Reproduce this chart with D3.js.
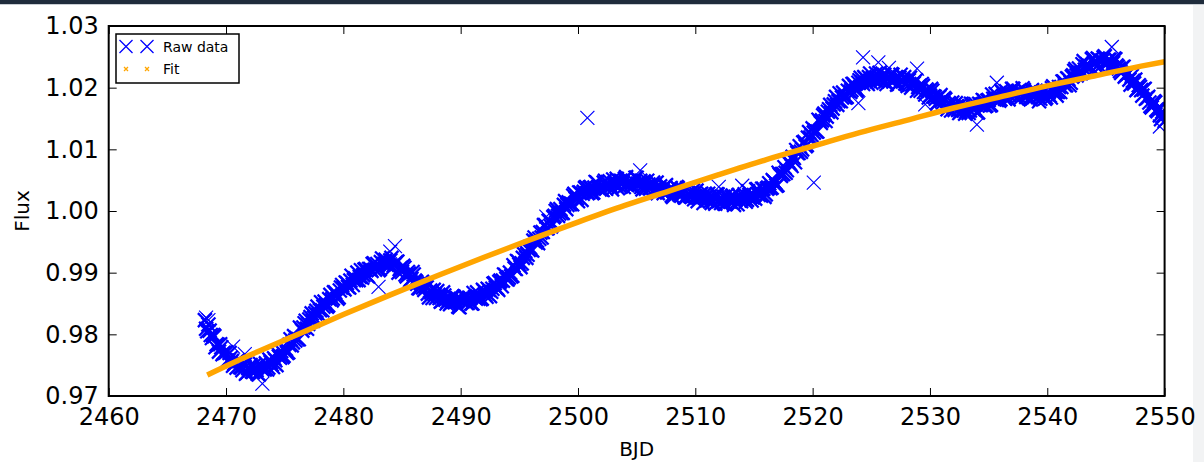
<!DOCTYPE html>
<html>
<head>
<meta charset="utf-8">
<script src="https://cdn.jsdelivr.net/npm/d3@7"></script>
<style>
  html, body { margin: 0; padding: 0; background: #ffffff; }
  svg { display: block; font-family: "DejaVu Sans", sans-serif; }
</style>
</head>
<body>
<svg id="chart" width="1204" height="462"></svg>
<script>
// Light curve: two interleaved sets of exposures (BJD - 2457000, normalised flux)
const rawBjdA = [
  2468.2, 2468.4, 2468.6, 2468.8,
  2469.0, 2469.2, 2469.4, 2469.6, 2469.8,
  2470.0, 2470.2, 2470.4, 2470.6, 2470.8,
  2471.0, 2471.2, 2471.4, 2471.6, 2471.8,
  2472.0, 2472.2, 2472.4, 2472.6, 2472.8,
  2473.0, 2473.2, 2473.4, 2473.6, 2473.8,
  2474.0, 2474.2, 2474.4, 2474.6, 2474.8,
  2475.0, 2475.2, 2475.4, 2475.6, 2475.8,
  2476.0, 2476.2, 2476.4, 2476.6, 2476.8,
  2477.0, 2477.2, 2477.4, 2477.6, 2477.8,
  2478.0, 2478.2, 2478.4, 2478.6, 2478.8,
  2479.0, 2479.2, 2479.4, 2479.6, 2479.8,
  2480.0, 2480.2, 2480.4, 2480.6, 2480.8,
  2481.0, 2481.2, 2481.4, 2481.6, 2481.8,
  2482.0, 2482.2, 2482.4, 2482.6, 2482.8,
  2483.0, 2483.2, 2483.4, 2483.6, 2483.8,
  2484.0, 2484.2, 2484.4, 2484.6, 2484.8,
  2485.0, 2485.2, 2485.4, 2485.6, 2485.8,
  2486.0, 2486.2, 2486.4, 2486.6, 2486.8,
  2487.0, 2487.2, 2487.4, 2487.6, 2487.8,
  2488.0, 2488.2, 2488.4, 2488.6, 2488.8,
  2489.0, 2489.2, 2489.4, 2489.6, 2489.8,
  2490.0, 2490.2, 2490.4, 2490.6, 2490.8,
  2491.0, 2491.2, 2491.4, 2491.6, 2491.8,
  2492.0, 2492.2, 2492.4, 2492.6, 2492.8,
  2493.0, 2493.2, 2493.4, 2493.6, 2493.8,
  2494.0, 2494.2, 2494.4, 2494.6, 2494.8,
  2495.0, 2495.2, 2495.4, 2495.6, 2495.8,
  2496.0, 2496.2, 2496.4, 2496.6, 2496.8,
  2497.0, 2497.2, 2497.4, 2497.6, 2497.8,
  2498.0, 2498.2, 2498.4, 2498.6, 2498.8,
  2499.0, 2499.2, 2499.4, 2499.6, 2499.8,
  2500.0, 2500.2, 2500.4, 2500.6, 2500.8,
  2501.0, 2501.2, 2501.4, 2501.6, 2501.8,
  2502.0, 2502.2, 2502.4, 2502.6, 2502.8,
  2503.0, 2503.2, 2503.4, 2503.6, 2503.8,
  2504.0, 2504.2, 2504.4, 2504.6, 2504.8,
  2505.0, 2505.2, 2505.4, 2505.6, 2505.8,
  2506.0, 2506.2, 2506.4, 2506.6, 2506.8,
  2507.0, 2507.2, 2507.4, 2507.6, 2507.8,
  2508.0, 2508.2, 2508.4, 2508.6, 2508.8,
  2509.0, 2509.2, 2509.4, 2509.6, 2509.8,
  2510.0, 2510.2, 2510.4, 2510.6, 2510.8,
  2511.0, 2511.2, 2511.4, 2511.6, 2511.8,
  2512.0, 2512.2, 2512.4, 2512.6, 2512.8,
  2513.0, 2513.2, 2513.4, 2513.6, 2513.8,
  2514.0, 2514.2, 2514.4, 2514.6, 2514.8,
  2515.0, 2515.2, 2515.4, 2515.6, 2515.8,
  2516.0, 2516.2, 2516.4, 2516.6, 2516.8,
  2517.0, 2517.2, 2517.4, 2517.6, 2517.8,
  2518.0, 2518.2, 2518.4, 2518.6, 2518.8,
  2519.0, 2519.2, 2519.4, 2519.6, 2519.8,
  2520.0, 2520.2, 2520.4, 2520.6, 2520.8,
  2521.0, 2521.2, 2521.4, 2521.6, 2521.8,
  2522.0, 2522.2, 2522.4, 2522.6, 2522.8,
  2523.0, 2523.2, 2523.4, 2523.6, 2523.8,
  2524.0, 2524.2, 2524.4, 2524.6, 2524.8,
  2525.0, 2525.2, 2525.4, 2525.6, 2525.8,
  2526.0, 2526.2, 2526.4, 2526.6, 2526.8,
  2527.0, 2527.2, 2527.4, 2527.6, 2527.8,
  2528.0, 2528.2, 2528.4, 2528.6, 2528.8,
  2529.0, 2529.2, 2529.4, 2529.6, 2529.8,
  2530.0, 2530.2, 2530.4, 2530.6, 2530.8,
  2531.0, 2531.2, 2531.4, 2531.6, 2531.8,
  2532.0, 2532.2, 2532.4, 2532.6, 2532.8,
  2533.0, 2533.2, 2533.4, 2533.6, 2533.8,
  2534.0, 2534.2, 2534.4, 2534.6, 2534.8,
  2535.0, 2535.2, 2535.4, 2535.6, 2535.8,
  2536.0, 2536.2, 2536.4, 2536.6, 2536.8,
  2537.0, 2537.2, 2537.4, 2537.6, 2537.8,
  2538.0, 2538.2, 2538.4, 2538.6, 2538.8,
  2539.0, 2539.2, 2539.4, 2539.6, 2539.8,
  2540.0, 2540.2, 2540.4, 2540.6, 2540.8,
  2541.0, 2541.2, 2541.4, 2541.6, 2541.8,
  2542.0, 2542.2, 2542.4, 2542.6, 2542.8,
  2543.0, 2543.2, 2543.4, 2543.6, 2543.8,
  2544.0, 2544.2, 2544.4, 2544.6, 2544.8,
  2545.0, 2545.2, 2545.4, 2545.6, 2545.8,
  2546.0, 2546.2, 2546.4, 2546.6, 2546.8,
  2547.0, 2547.2, 2547.4, 2547.6, 2547.8,
  2548.0, 2548.2, 2548.4, 2548.6, 2548.8,
  2549.0, 2549.2, 2549.4, 2549.6, 2549.8,
  2550.0
];

const rawFluxA = [
  0.9823, 0.9805, 0.9806, 0.9794,
  0.9797, 0.9784, 0.9772, 0.9779, 0.9770,
  0.9771, 0.9758, 0.9762, 0.9749, 0.9754,
  0.9758, 0.9747, 0.9742, 0.9751, 0.9738,
  0.9745, 0.9740, 0.9750, 0.9742, 0.9735,
  0.9747, 0.9745, 0.9753, 0.9746, 0.9755,
  0.9747, 0.9758, 0.9769, 0.9762, 0.9763,
  0.9776, 0.9770, 0.9783, 0.9782, 0.9797,
  0.9794, 0.9792, 0.9809, 0.9811, 0.9822,
  0.9817, 0.9828, 0.9822, 0.9834, 0.9845,
  0.9839, 0.9839, 0.9853, 0.9845, 0.9857,
  0.9855, 0.9868, 0.9864, 0.9860, 0.9876,
  0.9875, 0.9884, 0.9877, 0.9887, 0.9880,
  0.9891, 0.9900, 0.9893, 0.9892, 0.9905,
  0.9896, 0.9906, 0.9903, 0.9915, 0.9909,
  0.9904, 0.9917, 0.9914, 0.9921, 0.9912,
  0.9920, 0.9908, 0.9914, 0.9918, 0.9906,
  0.9901, 0.9908, 0.9894, 0.9898, 0.9890,
  0.9897, 0.9885, 0.9875, 0.9883, 0.9876,
  0.9878, 0.9866, 0.9871, 0.9859, 0.9865,
  0.9870, 0.9859, 0.9854, 0.9863, 0.9850,
  0.9857, 0.9852, 0.9861, 0.9853, 0.9845,
  0.9857, 0.9854, 0.9861, 0.9851, 0.9859,
  0.9850, 0.9860, 0.9868, 0.9860, 0.9858,
  0.9870, 0.9861, 0.9872, 0.9869, 0.9882,
  0.9876, 0.9872, 0.9887, 0.9887, 0.9896,
  0.9889, 0.9900, 0.9895, 0.9907, 0.9919,
  0.9913, 0.9915, 0.9930, 0.9924, 0.9937,
  0.9937, 0.9952, 0.9949, 0.9948, 0.9965,
  0.9966, 0.9977, 0.9972, 0.9984, 0.9979,
  0.9992, 1.0003, 0.9996, 0.9997, 1.0010,
  1.0003, 1.0014, 1.0012, 1.0025, 1.0020,
  1.0016, 1.0030, 1.0028, 1.0037, 1.0029,
  1.0038, 1.0029, 1.0038, 1.0046, 1.0037,
  1.0035, 1.0046, 1.0036, 1.0044, 1.0040,
  1.0051, 1.0043, 1.0037, 1.0049, 1.0046,
  1.0052, 1.0042, 1.0049, 1.0039, 1.0047,
  1.0054, 1.0043, 1.0039, 1.0048, 1.0036,
  1.0043, 1.0037, 1.0046, 1.0037, 1.0029,
  1.0040, 1.0035, 1.0040, 1.0030, 1.0036,
  1.0025, 1.0032, 1.0039, 1.0028, 1.0025,
  1.0034, 1.0022, 1.0029, 1.0024, 1.0033,
  1.0024, 1.0016, 1.0027, 1.0023, 1.0028,
  1.0017, 1.0023, 1.0013, 1.0020, 1.0027,
  1.0016, 1.0013, 1.0023, 1.0012, 1.0020,
  1.0015, 1.0025, 1.0018, 1.0011, 1.0024,
  1.0020, 1.0027, 1.0018, 1.0026, 1.0017,
  1.0026, 1.0035, 1.0026, 1.0025, 1.0036,
  1.0027, 1.0038, 1.0037, 1.0050, 1.0046,
  1.0042, 1.0059, 1.0060, 1.0071, 1.0066,
  1.0078, 1.0073, 1.0086, 1.0099, 1.0094,
  1.0096, 1.0111, 1.0105, 1.0119, 1.0119,
  1.0134, 1.0131, 1.0129, 1.0146, 1.0147,
  1.0158, 1.0153, 1.0165, 1.0160, 1.0173,
  1.0185, 1.0178, 1.0178, 1.0192, 1.0184,
  1.0195, 1.0193, 1.0206, 1.0201, 1.0197,
  1.0212, 1.0209, 1.0217, 1.0208, 1.0217,
  1.0208, 1.0216, 1.0223, 1.0214, 1.0211,
  1.0221, 1.0210, 1.0217, 1.0212, 1.0221,
  1.0213, 1.0205, 1.0216, 1.0212, 1.0217,
  1.0206, 1.0212, 1.0200, 1.0207, 1.0212,
  1.0201, 1.0195, 1.0203, 1.0189, 1.0195,
  1.0187, 1.0195, 1.0185, 1.0175, 1.0185,
  1.0179, 1.0183, 1.0171, 1.0175, 1.0163,
  1.0169, 1.0175, 1.0164, 1.0161, 1.0170,
  1.0158, 1.0167, 1.0163, 1.0173, 1.0166,
  1.0160, 1.0174, 1.0172, 1.0179, 1.0171,
  1.0180, 1.0172, 1.0182, 1.0190, 1.0182,
  1.0181, 1.0192, 1.0182, 1.0191, 1.0187,
  1.0198, 1.0190, 1.0183, 1.0195, 1.0190,
  1.0196, 1.0185, 1.0192, 1.0181, 1.0189,
  1.0195, 1.0185, 1.0182, 1.0193, 1.0182,
  1.0190, 1.0187, 1.0199, 1.0192, 1.0187,
  1.0201, 1.0201, 1.0210, 1.0204, 1.0214,
  1.0208, 1.0220, 1.0230, 1.0224, 1.0224,
  1.0238, 1.0229, 1.0238, 1.0235, 1.0246,
  1.0240, 1.0234, 1.0246, 1.0243, 1.0249,
  1.0240, 1.0245, 1.0234, 1.0240, 1.0246,
  1.0234, 1.0227, 1.0233, 1.0218, 1.0222,
  1.0213, 1.0219, 1.0207, 1.0196, 1.0204,
  1.0196, 1.0197, 1.0182, 1.0185, 1.0170,
  1.0173, 1.0176, 1.0162, 1.0155, 1.0161,
  1.0146
];

const rawBjdB = [
  2468.3, 2468.5, 2468.7, 2468.9,
  2469.1, 2469.3, 2469.5, 2469.7, 2469.9,
  2470.1, 2470.3, 2470.5, 2470.7, 2470.9,
  2471.1, 2471.3, 2471.5, 2471.7, 2471.9,
  2472.1, 2472.3, 2472.5, 2472.7, 2472.9,
  2473.1, 2473.3, 2473.5, 2473.7, 2473.9,
  2474.1, 2474.3, 2474.5, 2474.7, 2474.9,
  2475.1, 2475.3, 2475.5, 2475.7, 2475.9,
  2476.1, 2476.3, 2476.5, 2476.7, 2476.9,
  2477.1, 2477.3, 2477.5, 2477.7, 2477.9,
  2478.1, 2478.3, 2478.5, 2478.7, 2478.9,
  2479.1, 2479.3, 2479.5, 2479.7, 2479.9,
  2480.1, 2480.3, 2480.5, 2480.7, 2480.9,
  2481.1, 2481.3, 2481.5, 2481.7, 2481.9,
  2482.1, 2482.3, 2482.5, 2482.7, 2482.9,
  2483.1, 2483.3, 2483.5, 2483.7, 2483.9,
  2484.1, 2484.3, 2484.5, 2484.7, 2484.9,
  2485.1, 2485.3, 2485.5, 2485.7, 2485.9,
  2486.1, 2486.3, 2486.5, 2486.7, 2486.9,
  2487.1, 2487.3, 2487.5, 2487.7, 2487.9,
  2488.1, 2488.3, 2488.5, 2488.7, 2488.9,
  2489.1, 2489.3, 2489.5, 2489.7, 2489.9,
  2490.1, 2490.3, 2490.5, 2490.7, 2490.9,
  2491.1, 2491.3, 2491.5, 2491.7, 2491.9,
  2492.1, 2492.3, 2492.5, 2492.7, 2492.9,
  2493.1, 2493.3, 2493.5, 2493.7, 2493.9,
  2494.1, 2494.3, 2494.5, 2494.7, 2494.9,
  2495.1, 2495.3, 2495.5, 2495.7, 2495.9,
  2496.1, 2496.3, 2496.5, 2496.7, 2496.9,
  2497.1, 2497.3, 2497.5, 2497.7, 2497.9,
  2498.1, 2498.3, 2498.5, 2498.7, 2498.9,
  2499.1, 2499.3, 2499.5, 2499.7, 2499.9,
  2500.1, 2500.3, 2500.5, 2500.7, 2500.9,
  2501.1, 2501.3, 2501.5, 2501.7, 2501.9,
  2502.1, 2502.3, 2502.5, 2502.7, 2502.9,
  2503.1, 2503.3, 2503.5, 2503.7, 2503.9,
  2504.1, 2504.3, 2504.5, 2504.7, 2504.9,
  2505.1, 2505.3, 2505.5, 2505.7, 2505.9,
  2506.1, 2506.3, 2506.5, 2506.7, 2506.9,
  2507.1, 2507.3, 2507.5, 2507.7, 2507.9,
  2508.1, 2508.3, 2508.5, 2508.7, 2508.9,
  2509.1, 2509.3, 2509.5, 2509.7, 2509.9,
  2510.1, 2510.3, 2510.5, 2510.7, 2510.9,
  2511.1, 2511.3, 2511.5, 2511.7, 2511.9,
  2512.1, 2512.3, 2512.5, 2512.7, 2512.9,
  2513.1, 2513.3, 2513.5, 2513.7, 2513.9,
  2514.1, 2514.3, 2514.5, 2514.7, 2514.9,
  2515.1, 2515.3, 2515.5, 2515.7, 2515.9,
  2516.1, 2516.3, 2516.5, 2516.7, 2516.9,
  2517.1, 2517.3, 2517.5, 2517.7, 2517.9,
  2518.1, 2518.3, 2518.5, 2518.7, 2518.9,
  2519.1, 2519.3, 2519.5, 2519.7, 2519.9,
  2520.1, 2520.3, 2520.5, 2520.7, 2520.9,
  2521.1, 2521.3, 2521.5, 2521.7, 2521.9,
  2522.1, 2522.3, 2522.5, 2522.7, 2522.9,
  2523.1, 2523.3, 2523.5, 2523.7, 2523.9,
  2524.1, 2524.3, 2524.5, 2524.7, 2524.9,
  2525.1, 2525.3, 2525.5, 2525.7, 2525.9,
  2526.1, 2526.3, 2526.5, 2526.7, 2526.9,
  2527.1, 2527.3, 2527.5, 2527.7, 2527.9,
  2528.1, 2528.3, 2528.5, 2528.7, 2528.9,
  2529.1, 2529.3, 2529.5, 2529.7, 2529.9,
  2530.1, 2530.3, 2530.5, 2530.7, 2530.9,
  2531.1, 2531.3, 2531.5, 2531.7, 2531.9,
  2532.1, 2532.3, 2532.5, 2532.7, 2532.9,
  2533.1, 2533.3, 2533.5, 2533.7, 2533.9,
  2534.1, 2534.3, 2534.5, 2534.7, 2534.9,
  2535.1, 2535.3, 2535.5, 2535.7, 2535.9,
  2536.1, 2536.3, 2536.5, 2536.7, 2536.9,
  2537.1, 2537.3, 2537.5, 2537.7, 2537.9,
  2538.1, 2538.3, 2538.5, 2538.7, 2538.9,
  2539.1, 2539.3, 2539.5, 2539.7, 2539.9,
  2540.1, 2540.3, 2540.5, 2540.7, 2540.9,
  2541.1, 2541.3, 2541.5, 2541.7, 2541.9,
  2542.1, 2542.3, 2542.5, 2542.7, 2542.9,
  2543.1, 2543.3, 2543.5, 2543.7, 2543.9,
  2544.1, 2544.3, 2544.5, 2544.7, 2544.9,
  2545.1, 2545.3, 2545.5, 2545.7, 2545.9,
  2546.1, 2546.3, 2546.5, 2546.7, 2546.9,
  2547.1, 2547.3, 2547.5, 2547.7, 2547.9,
  2548.1, 2548.3, 2548.5, 2548.7, 2548.9,
  2549.1, 2549.3, 2549.5, 2549.7, 2549.9
];

const rawFluxB = [
  0.9809, 0.9816, 0.9799, 0.9799,
  0.9779, 0.9783, 0.9784, 0.9768, 0.9770,
  0.9757, 0.9770, 0.9757, 0.9752, 0.9746,
  0.9757, 0.9746, 0.9752, 0.9736, 0.9745,
  0.9750, 0.9739, 0.9746, 0.9736, 0.9752,
  0.9743, 0.9743, 0.9743, 0.9759, 0.9751,
  0.9761, 0.9750, 0.9764, 0.9773, 0.9765,
  0.9776, 0.9771, 0.9792, 0.9787, 0.9790,
  0.9792, 0.9811, 0.9806, 0.9818, 0.9809,
  0.9824, 0.9834, 0.9827, 0.9838, 0.9832,
  0.9852, 0.9845, 0.9847, 0.9847, 0.9864,
  0.9858, 0.9868, 0.9858, 0.9871, 0.9880,
  0.9873, 0.9883, 0.9876, 0.9895, 0.9888,
  0.9888, 0.9888, 0.9904, 0.9896, 0.9906,
  0.9894, 0.9906, 0.9914, 0.9905, 0.9914,
  0.9906, 0.9923, 0.9914, 0.9913, 0.9911,
  0.9924, 0.9912, 0.9917, 0.9900, 0.9908,
  0.9911, 0.9897, 0.9901, 0.9888, 0.9901,
  0.9887, 0.9882, 0.9875, 0.9885, 0.9872,
  0.9876, 0.9860, 0.9868, 0.9872, 0.9859,
  0.9864, 0.9853, 0.9868, 0.9856, 0.9853,
  0.9849, 0.9862, 0.9852, 0.9859, 0.9844,
  0.9854, 0.9861, 0.9851, 0.9859, 0.9850,
  0.9867, 0.9858, 0.9858, 0.9857, 0.9872,
  0.9864, 0.9874, 0.9862, 0.9874, 0.9883,
  0.9875, 0.9885, 0.9878, 0.9897, 0.9890,
  0.9892, 0.9894, 0.9912, 0.9906, 0.9918,
  0.9909, 0.9924, 0.9935, 0.9929, 0.9941,
  0.9936, 0.9957, 0.9952, 0.9955, 0.9957,
  0.9977, 0.9972, 0.9984, 0.9975, 0.9990,
  1.0000, 0.9992, 1.0003, 0.9997, 1.0016,
  1.0010, 1.0011, 1.0011, 1.0028, 1.0021,
  1.0030, 1.0018, 1.0031, 1.0039, 1.0030,
  1.0039, 1.0030, 1.0047, 1.0038, 1.0037,
  1.0034, 1.0049, 1.0040, 1.0048, 1.0035,
  1.0045, 1.0052, 1.0041, 1.0048, 1.0039,
  1.0055, 1.0045, 1.0043, 1.0040, 1.0054,
  1.0044, 1.0049, 1.0035, 1.0044, 1.0049,
  1.0037, 1.0043, 1.0032, 1.0046, 1.0036,
  1.0033, 1.0029, 1.0042, 1.0031, 1.0037,
  1.0023, 1.0032, 1.0037, 1.0026, 1.0032,
  1.0022, 1.0037, 1.0026, 1.0023, 1.0019,
  1.0033, 1.0022, 1.0028, 1.0013, 1.0022,
  1.0028, 1.0016, 1.0023, 1.0012, 1.0027,
  1.0017, 1.0015, 1.0012, 1.0026, 1.0016,
  1.0023, 1.0010, 1.0020, 1.0026, 1.0016,
  1.0024, 1.0015, 1.0032, 1.0023, 1.0022,
  1.0020, 1.0035, 1.0027, 1.0036, 1.0023,
  1.0036, 1.0045, 1.0038, 1.0048, 1.0041,
  1.0062, 1.0057, 1.0060, 1.0062, 1.0081,
  1.0076, 1.0088, 1.0079, 1.0094, 1.0105,
  1.0100, 1.0112, 1.0107, 1.0128, 1.0123,
  1.0127, 1.0129, 1.0148, 1.0143, 1.0155,
  1.0146, 1.0161, 1.0172, 1.0166, 1.0178,
  1.0172, 1.0191, 1.0184, 1.0185, 1.0185,
  1.0203, 1.0196, 1.0206, 1.0195, 1.0208,
  1.0216, 1.0206, 1.0215, 1.0206, 1.0223,
  1.0214, 1.0212, 1.0210, 1.0224, 1.0214,
  1.0221, 1.0206, 1.0216, 1.0222, 1.0210,
  1.0217, 1.0206, 1.0221, 1.0210, 1.0207,
  1.0203, 1.0216, 1.0205, 1.0210, 1.0195,
  1.0203, 1.0206, 1.0193, 1.0197, 1.0184,
  1.0198, 1.0186, 1.0182, 1.0176, 1.0188,
  1.0176, 1.0181, 1.0165, 1.0172, 1.0176,
  1.0164, 1.0170, 1.0159, 1.0174, 1.0163,
  1.0161, 1.0159, 1.0174, 1.0165, 1.0173,
  1.0160, 1.0172, 1.0180, 1.0170, 1.0179,
  1.0171, 1.0189, 1.0181, 1.0180, 1.0179,
  1.0195, 1.0186, 1.0194, 1.0181, 1.0191,
  1.0198, 1.0187, 1.0194, 1.0183, 1.0199,
  1.0189, 1.0186, 1.0183, 1.0196, 1.0185,
  1.0192, 1.0178, 1.0189, 1.0195, 1.0184,
  1.0192, 1.0184, 1.0202, 1.0193, 1.0193,
  1.0193, 1.0210, 1.0204, 1.0215, 1.0204,
  1.0218, 1.0227, 1.0220, 1.0231, 1.0224,
  1.0243, 1.0234, 1.0234, 1.0233, 1.0248,
  1.0239, 1.0247, 1.0234, 1.0244, 1.0251,
  1.0239, 1.0245, 1.0233, 1.0247, 1.0236,
  1.0231, 1.0224, 1.0234, 1.0220, 1.0223,
  1.0205, 1.0211, 1.0213, 1.0198, 1.0201,
  1.0187, 1.0198, 1.0183, 1.0176, 1.0168,
  1.0178, 1.0164, 1.0167, 1.0149, 1.0155
];

// Scattered single exposures away from the main band
const strayBjd  = [2468.3, 2468.5, 2470.6, 2471.6, 2473.1, 2483.0, 2484.0, 2484.4, 2497.3, 2500.8, 2505.3, 2512.0, 2514.0, 2520.1, 2523.9, 2524.3, 2525.6, 2526.5, 2528.9, 2529.6, 2534.0, 2535.7, 2545.5, 2549.6];
const strayFlux = [0.9827, 0.9823, 0.9780, 0.9768, 0.9720, 0.9877, 0.9934, 0.9943, 0.9991, 1.0151, 1.0066, 1.0039, 1.0041, 1.0046, 1.0175, 1.0249, 1.0241, 1.0232, 1.0231, 1.0173, 1.0140, 1.0208, 1.0266, 1.0137];

// Smooth trend fitted to the light curve
const fitBjd  = [2468.4, 2472, 2476, 2480, 2484, 2488, 2492, 2496, 2500, 2504, 2508, 2512, 2516, 2520, 2524, 2528, 2532, 2536, 2540, 2544, 2548, 2550];
const fitFlux = [0.9734, 0.9766, 0.9799, 0.9832, 0.9864, 0.9895, 0.9925, 0.9954, 0.9982, 1.0009, 1.0034, 1.0059, 1.0083, 1.0105, 1.0127, 1.0147, 1.0167, 1.0185, 1.0203, 1.0219, 1.0235, 1.0242];

const xTicks = [2460, 2470, 2480, 2490, 2500, 2510, 2520, 2530, 2540, 2550];
const yTicks = [0.97, 0.98, 0.99, 1.00, 1.01, 1.02, 1.03];

const W = 1204, H = 462;
const margin = { left: 108.7, right: 39.4, top: 26, bottom: 66 };
const iw = W - margin.left - margin.right;
const ih = H - margin.top - margin.bottom;

const svg = d3.select("#chart");

// window chrome strips
svg.append("rect").attr("x", 0).attr("y", 0).attr("width", W).attr("height", 4).attr("fill", "#1f2c3c");
svg.append("rect").attr("x", 0).attr("y", 4).attr("width", W).attr("height", 1).attr("fill", "#c9ced4");
svg.append("rect").attr("x", 1193).attr("y", 5).attr("width", 11).attr("height", H - 5).attr("fill", "#f2f3f4");

const x = d3.scaleLinear().domain([2460, 2550]).range([0, iw]);
const y = d3.scaleLinear().domain([0.97, 1.03]).range([ih, 0]);

const g = svg.append("g").attr("transform", `translate(${margin.left},${margin.top})`);

g.append("defs").append("clipPath").attr("id", "plotClip")
  .append("rect").attr("x", 0).attr("y", 0).attr("width", iw).attr("height", ih);

const plot = g.append("g").attr("clip-path", "url(#plotClip)");

const cross = s => `M${-s},${-s}L${s},${s}M${-s},${s}L${s},${-s}`;
const pairs = (bs, fs) => bs.map((b, i) => [b, fs[i]]);

// Dense band of exposures: heavier strokes so overlapping crosses merge as in a full-cadence plot
const bandPts = pairs(rawBjdA, rawFluxA).concat(pairs(rawBjdB, rawFluxB));
plot.append("g").selectAll("path")
  .data(bandPts)
  .join("path")
  .attr("transform", d => `translate(${x(d[0])},${y(d[1])})`)
  .attr("d", cross(7))
  .attr("fill", "none")
  .attr("stroke", "#0000ff")
  .attr("stroke-width", 2.3);

plot.append("g").selectAll("path")
  .data(pairs(strayBjd, strayFlux))
  .join("path")
  .attr("transform", d => `translate(${x(d[0])},${y(d[1])})`)
  .attr("d", cross(7))
  .attr("fill", "none")
  .attr("stroke", "#0000ff")
  .attr("stroke-width", 1.2);

const fitPts = pairs(fitBjd, fitFlux);
plot.append("path")
  .datum(fitPts)
  .attr("d", d3.line().x(d => x(d[0])).y(d => y(d[1])).curve(d3.curveMonotoneX))
  .attr("fill", "none")
  .attr("stroke", "#ffa500")
  .attr("stroke-width", 5.5);

// Axes with inward ticks on all four sides
const fmtY = d3.format(".2f");
const styleAxis = sel => {
  sel.select(".domain").remove();
  sel.selectAll(".tick line").attr("stroke", "#000").attr("stroke-width", 1);
};

g.append("g").attr("transform", `translate(0,${ih})`)
  .call(d3.axisBottom(x).tickValues(xTicks).tickFormat(d3.format("d")).tickSizeInner(-8).tickSizeOuter(0).tickPadding(12))
  .call(styleAxis)
  .selectAll("text").attr("font-size", 24).attr("fill", "#000").attr("font-family", "DejaVu Sans");

g.append("g")
  .call(d3.axisTop(x).tickValues(xTicks).tickFormat("").tickSizeInner(-8).tickSizeOuter(0))
  .call(styleAxis);

g.append("g")
  .call(d3.axisLeft(y).tickValues(yTicks).tickFormat(fmtY).tickSizeInner(-8).tickSizeOuter(0).tickPadding(10))
  .call(styleAxis)
  .selectAll("text").attr("font-size", 24).attr("fill", "#000").attr("font-family", "DejaVu Sans");

g.append("g").attr("transform", `translate(${iw},0)`)
  .call(d3.axisRight(y).tickValues(yTicks).tickFormat("").tickSizeInner(-8).tickSizeOuter(0))
  .call(styleAxis);

g.append("rect")
  .attr("x", 0).attr("y", 0).attr("width", iw).attr("height", ih)
  .attr("fill", "none").attr("stroke", "#000").attr("stroke-width", 2);

// Axis titles
svg.append("text")
  .attr("x", margin.left + iw / 2).attr("y", 456)
  .attr("text-anchor", "middle")
  .attr("font-size", 20).attr("fill", "#000")
  .text("BJD");

svg.append("text")
  .attr("transform", `translate(29,${margin.top + ih / 2}) rotate(-90)`)
  .attr("text-anchor", "middle")
  .attr("font-size", 20).attr("fill", "#000")
  .text("Flux");

// Legend
const legend = svg.append("g");
legend.append("rect")
  .attr("x", 116).attr("y", 34).attr("width", 123).attr("height", 49)
  .attr("fill", "#fff").attr("stroke", "#000").attr("stroke-width", 1.5);

[126, 147].forEach(cx => {
  legend.append("path").attr("transform", `translate(${cx},46.5)`).attr("d", cross(6.5))
    .attr("fill", "none").attr("stroke", "#0000ff").attr("stroke-width", 1.3);
  legend.append("path").attr("transform", `translate(${cx},69)`).attr("d", cross(2))
    .attr("fill", "none").attr("stroke", "#ffa500").attr("stroke-width", 1.3);
});

legend.append("text").attr("x", 163).attr("y", 52).attr("font-size", 14).attr("fill", "#000").text("Raw data");
legend.append("text").attr("x", 163).attr("y", 74).attr("font-size", 14).attr("fill", "#000").text("Fit");
</script>
</body>
</html>
